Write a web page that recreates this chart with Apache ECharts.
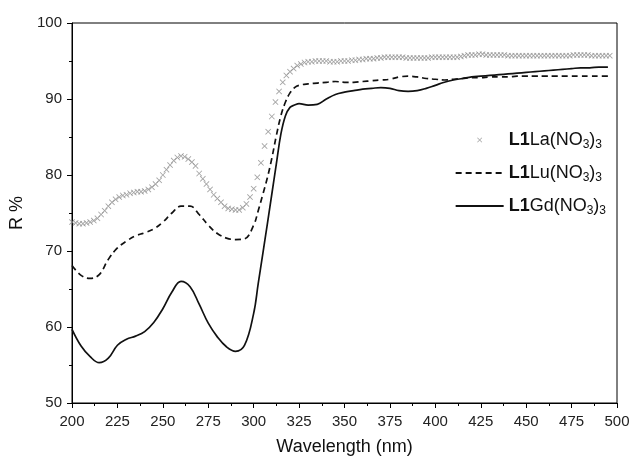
<!DOCTYPE html>
<html>
<head>
<meta charset="utf-8">
<script src="https://cdn.jsdelivr.net/npm/echarts@6/dist/echarts.min.js"></script>
<style>
html,body{margin:0;padding:0;background:#fff;}
#chart{width:633px;height:467px;}
</style>
</head>
<body>
<div id="chart"></div>
<script>
// ---- data ----
const xTicks = [200,225,250,275,300,325,350,375,400,425,450,475,500];
const yTicks = [50,60,70,80,90,100];

const seriesNames = ['L1La(NO3)3','L1Lu(NO3)3','L1Gd(NO3)3'];

// L1La(NO3)3 : crosses
const laWavelength = [
200,202,204,206,208,210,212,214,216,218,220,222,224,226,228,230,232,234,236,238,
240,242,244,246,248,250,252,254,256,258,260,262,264,266,268,270,272,274,276,278,
280,282,284,286,288,290,292,294,296,298,300,302,304,306,308,310,312,314,316,318,
320,322,324,326,328,330,332,334,336,338,340,342,344,346,348,350,352,354,356,358,
360,362,364,366,368,370,372,374,376,378,380,382,384,386,388,390,392,394,396,398,
400,402,404,406,408,410,412,414,416,418,420,422,424,426,428,430,432,434,436,438,
440,442,444,446,448,450,452,454,456,458,460,462,464,466,468,470,472,474,476,478,
480,482,484,486,488,490,492,494,496
];
const laR = [
73.8,73.7,73.6,73.6,73.7,73.8,74.0,74.3,74.8,75.3,75.9,76.4,76.8,77.1,77.3,77.4,77.6,77.7,77.8,77.8,
77.9,78.1,78.4,78.8,79.3,80.0,80.7,81.3,81.9,82.3,82.5,82.4,82.1,81.7,81.2,80.2,79.5,78.8,78.1,77.4,
76.9,76.4,75.9,75.6,75.5,75.4,75.4,75.7,76.2,77.1,78.2,79.7,81.6,83.8,85.7,87.7,89.6,91.0,92.2,93.1,
93.6,94.0,94.4,94.6,94.8,94.9,94.9,95.0,95.0,95.0,95.0,94.9,94.9,94.9,95.0,95.0,95.0,95.1,95.1,95.2,
95.2,95.3,95.3,95.3,95.4,95.4,95.5,95.5,95.5,95.5,95.5,95.5,95.4,95.4,95.4,95.4,95.4,95.4,95.4,95.5,
95.5,95.5,95.5,95.5,95.5,95.5,95.5,95.6,95.7,95.8,95.8,95.8,95.9,95.9,95.8,95.8,95.8,95.8,95.8,95.8,
95.7,95.7,95.7,95.7,95.7,95.7,95.7,95.7,95.7,95.7,95.7,95.7,95.7,95.7,95.7,95.7,95.7,95.7,95.8,95.8,
95.8,95.8,95.8,95.7,95.7,95.7,95.7,95.7,95.7
];

// L1Lu(NO3)3 : dashed line
const luWavelength = [
200,205,210,215,220,225,230,235,240,245,250,255,260,265,270,275,280,285,290,295,
300,302.5,305,307.5,310,312.5,315,317.5,320,322.5,325,330,335,340,345,350,355,360,365,370,
375,380,385,390,395,400,405,410,415,420,425,430,435,440,445,450,455,460,465,470,
475,480,485,490,495
];
const luR = [
68.1,66.8,66.4,66.9,68.9,70.4,71.3,72.0,72.4,72.9,73.8,75.0,75.9,75.9,74.8,73.4,72.3,71.7,71.5,71.6,
73.4,75.3,77.4,79.6,82.2,85.2,87.8,89.6,90.8,91.5,91.8,92.0,92.1,92.2,92.3,92.2,92.2,92.3,92.4,92.5,
92.6,92.9,93.0,92.9,92.7,92.6,92.5,92.6,92.7,92.8,92.8,92.9,92.9,92.9,93.0,93.0,93.0,93.0,93.0,93.0,
93.0,93.0,93.0,93.0,93.0
];

// L1Gd(NO3)3 : solid line
const gdWavelength = [
200,205,210,215,220,225,230,235,240,245,250,255,260,265,270,275,280,285,290,295,
300,302.5,305,307.5,310,312.5,315,317.5,320,322.5,325,330,335,340,345,350,355,360,365,370,
375,380,385,390,395,400,405,410,415,420,425,430,435,440,445,450,455,460,465,470,
475,480,485,490,495
];
const gdR = [
59.7,57.5,56.1,55.3,55.9,57.6,58.4,58.8,59.4,60.6,62.4,64.6,66.0,65.3,63.0,60.5,58.7,57.4,56.8,57.6,
61.8,65.7,69.6,73.5,77.5,81.5,85.4,87.8,88.9,89.2,89.4,89.2,89.3,90.0,90.6,90.9,91.1,91.3,91.4,91.5,
91.4,91.1,91.0,91.1,91.4,91.8,92.2,92.5,92.7,92.9,93.0,93.1,93.2,93.3,93.4,93.5,93.6,93.7,93.8,93.9,
94.0,94.1,94.1,94.2,94.2
];

const pairs = (xs, ys) => xs.map((x, i) => [x, ys[i]]);

const FONT = '"Liberation Sans", Arial, sans-serif';
const crossPath = 'path://M0,1L1,0L5,4L9,0L10,1L6,5L10,9L9,10L5,6L1,10L0,9L4,5Z';
// same cross, padded inside a larger box so the legend icon is drawn small
const legendCross = 'path://M0,0L0.01,0L0,0.01Z M24,24L24.01,24L24,24.01Z M7,8L8,7L12,11L16,7L17,8L13,12L17,16L16,17L12,13L8,17L7,16L11,12Z';

const legendLabel = {
  'L1La(NO3)3': '{b|L1}{n|La(NO}{s|3}{n|)}{s|3}',
  'L1Lu(NO3)3': '{b|L1}{n|Lu(NO}{s|3}{n|)}{s|3}',
  'L1Gd(NO3)3': '{b|L1}{n|Gd(NO}{s|3}{n|)}{s|3}'
};

const chart = echarts.init(document.getElementById('chart'), null, {renderer: 'canvas'});
chart.setOption({
  animation: false,
  backgroundColor: '#fff',
  grid: {left: 72, right: 16, top: 23, bottom: 64, show: true, borderColor: '#000', borderWidth: 1, backgroundColor: 'transparent'},
  legend: {
    orient: 'vertical',
    right: 22,
    top: 124,
    itemWidth: 48,
    itemHeight: 12,
    itemGap: 11,
    align: 'left',
    data: [
      {name: seriesNames[0], icon: legendCross},
      {name: seriesNames[1]},
      {name: seriesNames[2]}
    ],
    formatter: name => legendLabel[name],
    textStyle: {
      fontFamily: FONT,
      color: '#111',
      rich: {
        b: {fontFamily: FONT, fontSize: 18, fontWeight: 'bold', color: '#111', lineHeight: 20},
        n: {fontFamily: FONT, fontSize: 18, color: '#111', lineHeight: 20},
        s: {fontFamily: FONT, fontSize: 12, color: '#111', lineHeight: 12, padding: [10, 0, 0, 0]}
      }
    }
  },
  xAxis: {
    type: 'value',
    min: 200, max: 500, interval: 25,
    name: 'Wavelength (nm)',
    nameLocation: 'middle',
    nameGap: 35,
    nameTextStyle: {fontFamily: FONT, fontSize: 18, color: '#111'},
    axisLine: {show: true, onZero: false, lineStyle: {color: '#000', width: 1}},
    axisTick: {show: true, length: 5, lineStyle: {color: '#000'}},
    minorTick: {show: true, splitNumber: 2, length: 3, lineStyle: {color: '#000'}},
    axisLabel: {fontFamily: FONT, fontSize: 15, color: '#222', margin: 11,
      formatter: v => xTicks.includes(v) ? String(v) : ''},
    splitLine: {show: false}
  },
  yAxis: {
    type: 'value',
    min: 50, max: 100, interval: 10,
    name: 'R %',
    nameLocation: 'middle',
    nameGap: 42,
    nameTextStyle: {fontFamily: FONT, fontSize: 18, color: '#111'},
    axisLine: {show: true, onZero: false, lineStyle: {color: '#000', width: 1}},
    axisTick: {show: true, length: 5, lineStyle: {color: '#000'}},
    minorTick: {show: true, splitNumber: 2, length: 3, lineStyle: {color: '#000'}},
    axisLabel: {fontFamily: FONT, fontSize: 15, color: '#222', margin: 10,
      formatter: v => yTicks.includes(v) ? String(v) : ''},
    splitLine: {show: false}
  },
  series: [
    {
      name: seriesNames[0],
      type: 'scatter',
      data: pairs(laWavelength, laR),
      symbol: crossPath,
      symbolSize: 6,
      symbolKeepAspect: true,
      itemStyle: {color: '#8c8c8c'},
      z: 3
    },
    {
      name: seriesNames[1],
      type: 'line',
      data: pairs(luWavelength, luR),
      smooth: 0.4,
      showSymbol: false,
      symbol: 'circle',
      lineStyle: {color: '#111', width: 1.7, type: [6, 4]},
      itemStyle: {color: 'rgba(0,0,0,0)', borderWidth: 0},
      z: 2
    },
    {
      name: seriesNames[2],
      type: 'line',
      data: pairs(gdWavelength, gdR),
      smooth: 0.4,
      showSymbol: false,
      symbol: 'circle',
      lineStyle: {color: '#111', width: 1.7},
      itemStyle: {color: 'rgba(0,0,0,0)', borderWidth: 0},
      z: 2
    }
  ]
});
</script>
</body>
</html>
